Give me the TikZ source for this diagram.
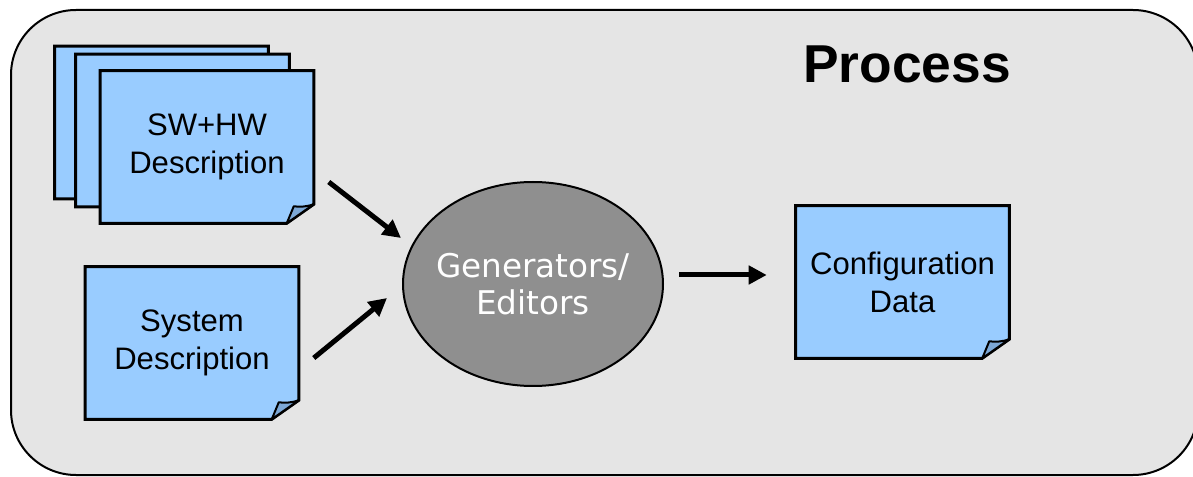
\documentclass[tikz,border=0pt]{standalone}
\usepackage{fontspec}
\setmainfont{Liberation Sans}
\newfontfamily\gensans{DejaVu Sans}
\usetikzlibrary{arrows.meta,calc,backgrounds,shapes.geometric}

\definecolor{panelgray}{RGB}{229,229,229}
\definecolor{sheetblue}{RGB}{153,204,255}
\definecolor{foldblue}{RGB}{125,168,214}
\definecolor{ellgray}{RGB}{143,143,143}

% one unit = one pixel of the 1193 x 477 canvas, y grows downwards
\tikzset{
  x=0.75pt, y=-0.75pt,
  panel/.style={draw=black, line width=1.5pt, fill=panelgray, rounded corners=48.75pt},
  sheet/.style={rectangle, inner sep=0pt, minimum width=159.75pt,
    minimum height=114pt, align=center,
    font=\fontsize{23.3}{28.5}\selectfont},
  sheetline/.style={draw=black, line width=2.25pt, fill=sheetblue, line join=miter},
  foldline/.style={draw=black, line width=1.5pt, fill=foldblue, line join=round},
  engine/.style={ellipse, draw=black, line width=1.5pt, fill=ellgray,
    inner xsep=-8pt, inner ysep=0pt, minimum width=195pt, minimum height=153pt,
    text=white, align=center, font=\gensans\fontsize{24.5}{28}\selectfont},
  flow/.style={line width=3.75pt, -{Triangle[length=13.5pt,width=13.5pt]}},
  title/.style={inner sep=0pt, anchor=base west,
    font=\bfseries\fontsize{40}{44}\selectfont},
}

% sheet outline with a curled bottom-right corner, drawn behind the node text
\newcommand\sheetoutline[1]{%
  \begin{pgfonlayer}{background}
    \path[sheetline] (#1.north west) -- (#1.north east)
      -- ([yshift=14.25pt]#1.south east) -- ([xshift=-20.25pt]#1.south east)
      -- (#1.south west) -- cycle;
    \path[foldline] ([xshift=-20.25pt]#1.south east)
      -- ([xshift=-15pt,yshift=12.75pt]#1.south east)
      to[bend right=12] ([yshift=14.25pt]#1.south east) -- cycle;
  \end{pgfonlayer}}

\begin{document}
\begin{tikzpicture}
  \useasboundingbox (0,0) rectangle (1193,477);

  % the panel runs on past the right edge of the page
  \begin{pgfonlayer}{background}
    \path[panel] (11,10) rectangle (1198,475);
  \end{pgfonlayer}

  \node[title] (proc) at (803,83) {Process};

  % stacked component descriptions
  \node[sheet] (back1) at (161.5,122.5) {};
  \sheetoutline{back1}
  \node[sheet] (back2) at (182.5,130.5) {};
  \sheetoutline{back2}
  \node[sheet] (swhw) at (207,147) {SW+HW\\Description};
  \sheetoutline{swhw}

  \node[sheet] (sys) at (192,343) {System\\Description};
  \sheetoutline{sys}

  \node[sheet] (cfg) at (902.5,282) {Configuration\\Data};
  \sheetoutline{cfg}

  \node[engine] (gen) at (533,284) {Generators/\\Editors};

  \draw[flow] ($(swhw.east)+(15,35)$) -- ($(gen.west)+(-1,-46)$);
  \draw[flow] ($(sys.east)+(15,15)$) -- ($(gen.west)+(-15,14)$);
  \draw[flow] ($(gen.east)+(15,-9)$) -- ($(cfg.west)+(-29,-7)$);
\end{tikzpicture}
\end{document}
